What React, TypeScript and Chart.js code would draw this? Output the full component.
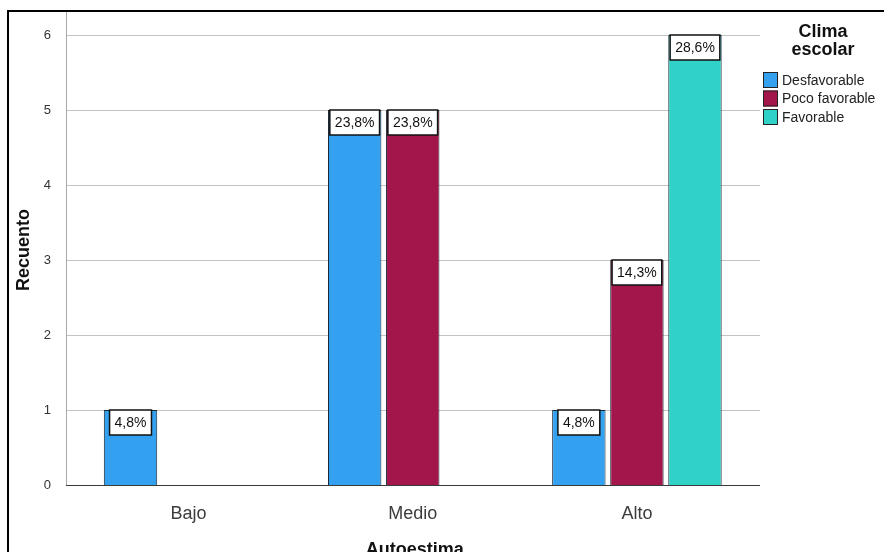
import React, { useEffect, useRef } from "react";
import { Chart, registerables } from "chart.js";

Chart.register(...registerables);

const categories = ["Bajo", "Medio", "Alto"];
const seriesNames = ["Desfavorable", "Poco favorable", "Favorable"];
const desfavorable = [1, 5, 1];
const pocoFavorable = [null, 5, 3];
const favorable = [null, null, 6];
const desfavorablePct = [4.8, 23.8, 4.8];
const pocoFavorablePct = [null, 23.8, 14.3];
const favorablePct = [null, null, 28.6];
const yTicks = [0, 1, 2, 3, 4, 5, 6];
const legendTitle = ["Clima", "escolar"];
const xTitle = "Autoestima";
const yTitle = "Recuento";

const colors = ["#33a1f0", "#a3164b", "#30d2c7"];
const FONT = "'Liberation Sans', Arial, sans-serif";

const pctSets = [desfavorablePct, pocoFavorablePct, favorablePct];
const fmtPct = (v: number) => v.toFixed(1).replace(".", ",") + "%";

const spssPlugin = {
  id: "spssDecor",
  beforeDatasetsDraw(chart: any) {
    const { ctx, chartArea, scales } = chart;
    const y = scales.y;
    const left = chartArea.left - 10.5;
    const right = chartArea.right + 11;
    ctx.save();
    ctx.lineWidth = 1;
    ctx.strokeStyle = "#c4c4c4";
    y.ticks.forEach((t: any) => {
      if (t.value === 0) return;
      const py = Math.round(y.getPixelForValue(t.value)) + 0.5;
      ctx.beginPath();
      ctx.moveTo(left, py);
      ctx.lineTo(right, py);
      ctx.stroke();
    });
    const y0 = Math.round(y.getPixelForValue(0)) + 0.5;
    ctx.strokeStyle = "#a8a8a8";
    ctx.beginPath();
    ctx.moveTo(Math.round(left) + 0.5, 11);
    ctx.lineTo(Math.round(left) + 0.5, y0);
    ctx.stroke();
    ctx.restore();
  },
  afterDatasetsDraw(chart: any) {
    const { ctx, chartArea, scales } = chart;
    const y = scales.y;
    const left = chartArea.left - 10.5;
    const right = chartArea.right + 11;
    const y0 = Math.round(y.getPixelForValue(0)) + 0.5;
    ctx.save();
    ctx.strokeStyle = "#3a3a3a";
    ctx.lineWidth = 1;
    ctx.beginPath();
    ctx.moveTo(left, y0);
    ctx.lineTo(right, y0);
    ctx.stroke();

    // data labels
    ctx.font = `14px ${FONT}`;
    chart.data.datasets.forEach((ds: any, di: number) => {
      const meta = chart.getDatasetMeta(di);
      meta.data.forEach((bar: any, i: number) => {
        const v = ds.data[i];
        const p = pctSets[di][i];
        if (v == null || p == null) return;
        const text = fmtPct(p);
        const { x, y: top, width } = bar.getProps(["x", "y", "width"], true);
        const tw = ctx.measureText(text).width;
        const bw = Math.min(tw + 10, width);
        const bh = 25;
        ctx.fillStyle = "#ffffff";
        ctx.fillRect(x - bw / 2, top, bw, bh);
        ctx.lineWidth = 1.5;
        ctx.strokeStyle = "#111111";
        ctx.strokeRect(x - bw / 2, top, bw, bh);
        ctx.fillStyle = "#111111";
        ctx.textAlign = "center";
        ctx.textBaseline = "middle";
        ctx.fillText(text, x, top + bh / 2 + 1);
      });
    });
    ctx.restore();
  },
  afterDraw(chart: any) {
    const { ctx, chartArea } = chart;
    ctx.save();
    // axis titles
    ctx.fillStyle = "#111111";
    ctx.font = `bold 18px ${FONT}`;
    ctx.textAlign = "center";
    ctx.textBaseline = "middle";
    ctx.fillText(xTitle, (chartArea.left + chartArea.right) / 2 + 2, 550);
    ctx.save();
    ctx.translate(24, (chartArea.top + chartArea.bottom) / 2 - 10);
    ctx.rotate(-Math.PI / 2);
    ctx.fillText(yTitle, 0, 0);
    ctx.restore();

    // legend
    const lx = chartArea.right + 14;
    ctx.font = `bold 18px ${FONT}`;
    ctx.textAlign = "center";
    legendTitle.forEach((t, i) => {
      ctx.fillText(t, lx + 60, 32 + i * 18);
    });
    ctx.textAlign = "left";
    ctx.font = `14px ${FONT}`;
    chart.data.datasets.forEach((ds: any, i: number) => {
      const cy = 80 + i * 18.5;
      ctx.fillStyle = ds.backgroundColor;
      ctx.fillRect(lx, cy - 8, 15, 16);
      ctx.strokeStyle = "#222222";
      ctx.lineWidth = 1;
      ctx.strokeRect(lx + 0.5, cy - 7.5, 14, 15);
      ctx.fillStyle = "#222222";
      ctx.fillText(ds.label, lx + 19, cy + 1);
    });
    ctx.restore();
  },
};

export default function App() {
  const ref = useRef<HTMLCanvasElement | null>(null);
  useEffect(() => {
    if (!ref.current) return;
    const seriesData = [desfavorable, pocoFavorable, favorable];
    const chart = new Chart(ref.current, {
      type: "bar",
      data: {
        labels: categories,
        datasets: seriesNames.map((name, i) => ({
          label: name,
          data: seriesData[i] as any,
          backgroundColor: colors[i],
          borderColor: "#1d2733",
          borderWidth: 1,
          categoryPercentage: 0.777,
          barPercentage: 0.92,
        })),
      },
      options: {
        responsive: false,
        animation: false,
        layout: { padding: { top: 35, right: 135, left: 0, bottom: 0 } },
        plugins: {
          legend: { display: false },
          tooltip: { enabled: false },
        },
        scales: {
          x: {
            grid: { display: false },
            border: { display: false },
            ticks: { color: "#3c3c3c", font: { size: 18, family: FONT }, padding: 10 },
            afterFit: (s: any) => {
              s.height = 67;
            },
          },
          y: {
            min: 0,
            max: 6,
            grid: { display: false },
            border: { display: false },
            afterBuildTicks: (s: any) => {
              s.ticks = yTicks.map((v) => ({ value: v }));
            },
            ticks: { color: "#333333", font: { size: 13, family: FONT }, padding: 17.5 },
            afterFit: (s: any) => {
              s.width = 76.5;
            },
          },
        },
      },
      plugins: [spssPlugin],
    });
    return () => chart.destroy();
  }, []);

  return (
    <div
      style={{
        position: "absolute",
        left: 0,
        top: 0,
        width: 884,
        height: 552,
        overflow: "hidden",
        background: "#ffffff",
      }}
    >
      <canvas ref={ref} width={884} height={552} style={{ position: "absolute", left: 0, top: 0 }} />
      <div
        style={{
          position: "absolute",
          left: 7,
          top: 10,
          width: 900,
          height: 600,
          borderLeft: "2px solid #000",
          borderTop: "2px solid #000",
          pointerEvents: "none",
        }}
      />
    </div>
  );
}
